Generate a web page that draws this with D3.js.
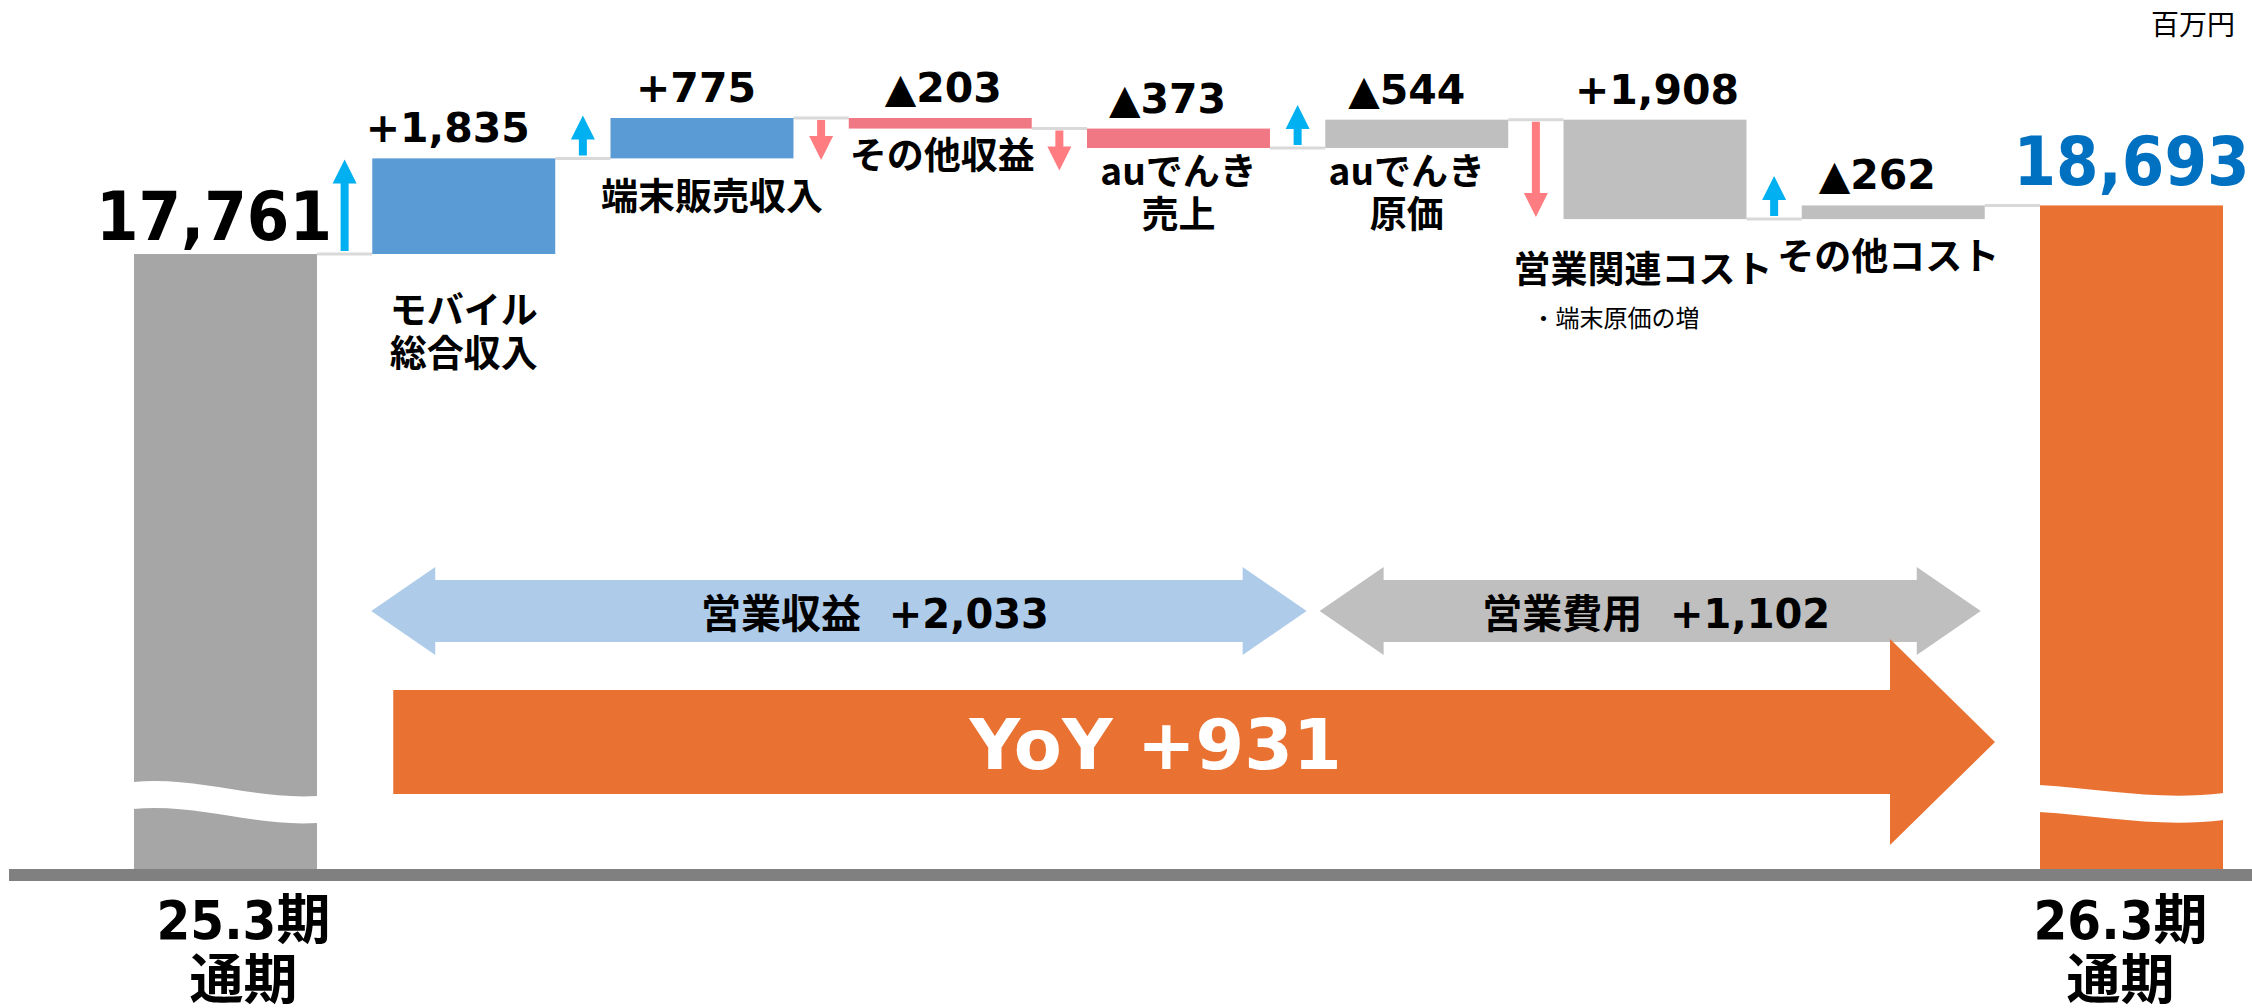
<!DOCTYPE html>
<html>
<head>
<meta charset="utf-8">
<script src="https://cdn.jsdelivr.net/npm/d3@7"></script>
<style>
  html, body { margin: 0; padding: 0; background: #fff; }
  svg { display: block; }
  .num { font-family: "DejaVu Sans Condensed", "DejaVu Sans", "Noto Sans CJK JP", sans-serif; font-weight: bold; }
  .wide { font-family: "DejaVu Sans", "Noto Sans CJK JP", sans-serif; font-weight: bold; }
  .jp { font-family: "Noto Sans CJK JP", sans-serif; font-weight: bold; }
</style>
</head>
<body>
<svg id="chart" width="2252" height="1008"></svg>
<script>
// ---- data ----
const periods = [['25.3期', '通期'], ['26.3期', '通期']];
const startValue = 17761;
const endValue = 18693;
const items = ['モバイル\n総合収入', '端末販売収入', 'その他収益', 'auでんき\n売上', 'auでんき\n原価', '営業関連コスト', 'その他コスト'];
const deltas = [1835, 775, -203, -373, 544, -1908, 262]; // effect on profit
const kinds = ['revenue', 'revenue', 'revenue', 'revenue', 'cost', 'cost', 'cost'];
const notes = ['', '', '', '', '', '・端末原価の増', ''];
const summaryNames = ['営業収益', '営業費用'];
const summaryValues = [2033, 1102];
const yoyValue = 931;
const unitLabel = '百万円';

// ---- layout ----
const width = 2252, height = 1008;
const baseY = 869;
const valueDx = [-16, -6, 3, -11, -10, 2, -16];
const nameY = [324, 210, 169, 185, 185, 283, 270];
const nameDx = [0, 10, 2, 0, -10, -12, -5];
const periodDx = [18, -11];
const summaryDx = [36, 6];

const svg = d3.select('#chart');

// running totals
let run = startValue;
const steps = deltas.map((d, i) => {
  const from = run;
  run += d;
  return { i, name: items[i], delta: d, kind: kinds[i], note: notes[i], from, to: run };
});

const x = d3.scaleBand()
  .domain(d3.range(items.length + 2))
  .range([134, 2223])
  .paddingInner(0.232);
const bw = x.bandwidth();

const y = d3.scaleLinear()
  .domain([startValue, d3.max(steps, d => d.to)])
  .range([254, 118]);

const fmt = d3.format(',');

function barColor(s) {
  if (s.kind === 'cost') return '#bfbfbf';
  return s.delta > 0 ? '#5b9bd5' : '#f07884';
}
function valueLabel(s) {
  const up = s.kind === 'revenue' ? s.delta > 0 : s.delta < 0;
  return (up ? '+' : '▲') + fmt(Math.abs(s.delta));
}

// axis line
svg.append('rect')
  .attr('x', 9).attr('y', baseY)
  .attr('width', width - 9).attr('height', 12)
  .attr('fill', '#808080');

// total bars
const totals = [
  { col: 0, value: startValue, color: '#a6a6a6' },
  { col: items.length + 1, value: endValue, color: '#e97132' }
];
svg.append('g').selectAll('rect')
  .data(totals)
  .join('rect')
  .attr('x', d => x(d.col))
  .attr('y', d => y(d.value))
  .attr('width', bw)
  .attr('height', d => baseY - y(d.value))
  .attr('fill', d => d.color);

// break marks on total bars
function breakPath(x0, w, top, c1, c2, endDy, band) {
  const x1 = x0 + w + 1;
  const xa = x0 + 0.35 * w, xb = x0 + 0.65 * w;
  return `M${x0 - 1},${top} C${xa},${top + c1} ${xb},${top + c2} ${x1},${top + endDy}` +
    ` L${x1},${top + endDy + band} C${xb},${top + c2 + band} ${xa},${top + c1 + band} ${x0 - 1},${top + band} Z`;
}
svg.append('path')
  .attr('d', breakPath(x(0), bw, 782, -6, 18, 14, 27))
  .attr('fill', '#fff');
svg.append('path')
  .attr('d', breakPath(x(items.length + 1), bw, 785, 4, 16, 8, 27))
  .attr('fill', '#fff');

// connectors
const levels = [startValue, ...steps.map(d => d.to)];
svg.append('g').selectAll('line')
  .data(levels)
  .join('line')
  .attr('x1', (d, k) => x(k) + bw)
  .attr('x2', (d, k) => x(k + 1))
  .attr('y1', d => y(d))
  .attr('y2', d => y(d))
  .attr('stroke', '#d9d9d9')
  .attr('stroke-width', 3);

// step bars
svg.append('g').selectAll('rect')
  .data(steps)
  .join('rect')
  .attr('x', d => x(d.i + 1))
  .attr('y', d => y(Math.max(d.from, d.to)))
  .attr('width', bw)
  .attr('height', d => Math.abs(y(d.from) - y(d.to)))
  .attr('fill', barColor);

// small arrows in the gaps
function arrowPath(cx, y0, y1) {
  const dir = y1 > y0 ? 1 : -1;
  const hb = y1 - dir * 24;
  return `M${cx - 4},${y0} L${cx - 4},${hb} L${cx - 12},${hb} L${cx},${y1} L${cx + 12},${hb} L${cx + 4},${hb} L${cx + 4},${y0} Z`;
}
svg.append('g').selectAll('path')
  .data(steps)
  .join('path')
  .attr('d', d => {
    const cx = (x(d.i) + bw + x(d.i + 1)) / 2;
    const up = y(d.to) < y(d.from);
    const tail = y(d.from) + (up ? -3 : 2);
    const len = Math.max(Math.abs(y(d.from) - y(d.to)) - 4, 40);
    return arrowPath(cx, tail, tail + (up ? -len : len));
  })
  .attr('fill', d => y(d.to) < y(d.from) ? '#00b0f0' : '#ff7c80');

// value labels
svg.append('g').selectAll('text')
  .data(steps)
  .join('text')
  .attr('class', 'wide')
  .attr('x', d => x(d.i + 1) + bw / 2 + valueDx[d.i])
  .attr('y', d => y(Math.max(d.from, d.to)) - 16)
  .attr('text-anchor', 'middle')
  .attr('font-size', 41)
  .attr('fill', '#000')
  .text(valueLabel);

// category labels
const names = svg.append('g').selectAll('text')
  .data(steps)
  .join('text')
  .attr('class', 'jp')
  .attr('text-anchor', 'middle')
  .attr('font-size', 37)
  .attr('fill', '#000');
names.each(function (d) {
  const cx = x(d.i + 1) + bw / 2 + nameDx[d.i];
  d3.select(this).selectAll('tspan')
    .data(d.name.split('\n'))
    .join('tspan')
    .attr('x', cx)
    .attr('y', (t, j) => nameY[d.i] + j * 43)
    .text(t => t);
});

// notes
svg.append('g').selectAll('text')
  .data(steps.filter(d => d.note))
  .join('text')
  .attr('x', d => x(d.i + 1) - 32)
  .attr('y', d => nameY[d.i] + 44)
  .attr('font-family', '"Noto Sans CJK JP", sans-serif')
  .attr('font-size', 24)
  .attr('fill', '#000')
  .text(d => d.note);

// total labels
svg.append('text')
  .attr('class', 'num')
  .attr('x', x(0) + bw + 15)
  .attr('y', y(startValue) - 14)
  .attr('text-anchor', 'end')
  .attr('font-size', 68)
  .attr('fill', '#000')
  .text(fmt(startValue));
svg.append('text')
  .attr('class', 'num')
  .attr('x', x(items.length + 1) + bw / 2)
  .attr('y', y(endValue) - 20)
  .attr('text-anchor', 'middle')
  .attr('font-size', 68)
  .attr('fill', '#0070c0')
  .text(fmt(endValue));

// period labels
svg.append('g').selectAll('text')
  .data(periods)
  .join('text')
  .attr('class', 'num')
  .attr('text-anchor', 'middle')
  .attr('font-size', 54)
  .attr('fill', '#000')
  .each(function (lines, k) {
    const col = k === 0 ? 0 : items.length + 1;
    const cx = x(col) + bw / 2 + periodDx[k];
    d3.select(this).selectAll('tspan')
      .data(lines)
      .join('tspan')
      .attr('x', cx)
      .attr('y', (t, j) => 939 + j * 60)
      .text(t => t);
  });

// unit
svg.append('text')
  .attr('x', 2235)
  .attr('y', 35)
  .attr('text-anchor', 'end')
  .attr('font-family', '"Noto Sans CJK JP", sans-serif')
  .attr('font-size', 28)
  .attr('fill', '#000')
  .text(unitLabel);

// summary double arrows
function doubleArrow(x0, x1, cy, bh, hh, hl) {
  return `M${x0},${cy} L${x0 + hl},${cy - hh} L${x0 + hl},${cy - bh} L${x1 - hl},${cy - bh} L${x1 - hl},${cy - hh}` +
    ` L${x1},${cy} L${x1 - hl},${cy + hh} L${x1 - hl},${cy + bh} L${x0 + hl},${cy + bh} L${x0 + hl},${cy + hh} Z`;
}
const revCols = steps.filter(d => d.kind === 'revenue').map(d => d.i + 1);
const costCols = steps.filter(d => d.kind === 'cost').map(d => d.i + 1);
const splitX = (x(d3.max(revCols)) + bw + x(d3.min(costCols))) / 2;
const summaries = [
  { x0: x(d3.min(revCols)) - 1, x1: splitX + 9, fill: '#aecce9' },
  { x0: splitX + 22, x1: x(d3.max(costCols)) + bw - 4, fill: '#bfbfbf' }
];
const sumY = 611;
svg.append('g').selectAll('path')
  .data(summaries)
  .join('path')
  .attr('d', d => doubleArrow(d.x0, d.x1, sumY, 31, 44, 64))
  .attr('fill', d => d.fill);
svg.append('g').selectAll('text')
  .data(summaries)
  .join('text')
  .attr('class', 'wide')
  .attr('x', (d, k) => (d.x0 + d.x1) / 2 + summaryDx[k])
  .attr('y', sumY + 17)
  .attr('text-anchor', 'middle')
  .attr('font-size', 40)
  .style('white-space', 'pre')
  .attr('fill', '#000')
  .text((d, k) => `${summaryNames[k]}  +${fmt(summaryValues[k])}`);

// YoY arrow
const yoyX0 = x(1) + 21;
const yoyTip = x(items.length + 1) - 45;
const yoyY = 742;
const headBase = yoyTip - 105;
svg.append('path')
  .attr('d', `M${yoyX0},${yoyY - 52} L${headBase},${yoyY - 52} L${headBase},${yoyY - 103} L${yoyTip},${yoyY}` +
    ` L${headBase},${yoyY + 103} L${headBase},${yoyY + 52} L${yoyX0},${yoyY + 52} Z`)
  .attr('fill', '#e97132');
svg.append('text')
  .attr('x', (yoyX0 + headBase) / 2 + 14)
  .attr('y', yoyY + 27)
  .attr('text-anchor', 'middle')
  .attr('font-family', '"DejaVu Sans", sans-serif')
  .attr('font-weight', 'bold')
  .attr('font-size', 70)
  .attr('fill', '#fff')
  .text(`YoY +${yoyValue}`);
</script>
</body>
</html>
